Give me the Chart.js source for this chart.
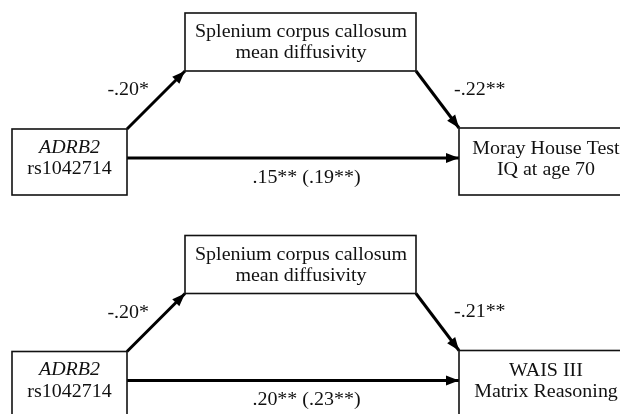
<!DOCTYPE html>
<html>
<head>
<meta charset="utf-8">
<script src="https://cdn.jsdelivr.net/npm/chart.js@4/dist/chart.umd.min.js"></script>
<style>
html,body{margin:0;padding:0;background:#fff;}
#c{display:block;}
</style>
</head>
<body>
<canvas id="c" width="620" height="414"></canvas>
<script>
// ---- Diagram content (data) ----
const predictorLabel = ['ADRB2', 'rs1042714'];
const mediatorLabel = ['Splenium corpus callosum', 'mean diffusivity'];
const outcomeLabels = [['Moray House Test', 'IQ at age 70'], ['WAIS III', 'Matrix Reasoning']];
const pathA = ['-.20*', '-.20*'];          // predictor -> mediator
const pathB = ['-.22**', '-.21**'];        // mediator -> outcome
const pathC = ['.15** (.19**)', '.20** (.23**)']; // direct (total) effect

// ---- Layout (diagram units on hidden linear scales) ----
const panelOffset = [0, 222.5];
const predBox = {x0: 12, x1: 127, y0: 129, y1: 195};
const medBox  = {x0: 185, x1: 416, y0: 13, y1: 71};
const outBox  = {x0: 459, x1: 640, y0: 128, y1: 195};
const directY = 158;

const FONT = '"Liberation Serif", "Times New Roman", serif';
const FS = 18, SX = 1.11, TDY = 1;

const datasets = [];
panelOffset.forEach((dy, p) => {
  datasets.push({label: 'a' + p, data: [{x: predBox.x1, y: predBox.y0 + dy}, {x: medBox.x0, y: medBox.y1 + dy}]});
  datasets.push({label: 'b' + p, data: [{x: medBox.x1, y: medBox.y1 + dy}, {x: outBox.x0, y: outBox.y0 + dy}]});
  datasets.push({label: 'c' + p, data: [{x: predBox.x1, y: directY + dy}, {x: outBox.x0, y: directY + dy}]});
});
datasets.forEach(d => Object.assign(d, {showLine: true, borderColor: '#000', borderWidth: 3, pointRadius: 0, pointHoverRadius: 0, tension: 0, borderCapStyle: 'butt'}));

function drawText(ctx, txt, x, y, align, italic) {
  ctx.save();
  ctx.translate(x, y + TDY);
  ctx.scale(SX, 1);
  ctx.font = (italic ? 'italic ' : '') + FS + 'px ' + FONT;
  ctx.fillStyle = '#111';
  ctx.textAlign = align;
  ctx.textBaseline = 'middle';
  ctx.fillText(txt, 0, 0);
  ctx.restore();
}

const diagramPlugin = {
  id: 'diagram',
  afterDatasetsDraw(chart) {
    const {ctx, scales: {x, y}} = chart;
    const px = v => x.getPixelForValue(v), py = v => y.getPixelForValue(v);
    ctx.save();
    // arrowheads
    chart.data.datasets.forEach(ds => {
      const a = ds.data[0], b = ds.data[1];
      const x1 = px(a.x), y1 = py(a.y), x2 = px(b.x), y2 = py(b.y);
      const ang = Math.atan2(y2 - y1, x2 - x1);
      const L = 13, W = 5;
      ctx.beginPath();
      ctx.moveTo(x2, y2);
      ctx.lineTo(x2 - L * Math.cos(ang) + W * Math.sin(ang), y2 - L * Math.sin(ang) - W * Math.cos(ang));
      ctx.lineTo(x2 - L * Math.cos(ang) - W * Math.sin(ang), y2 - L * Math.sin(ang) + W * Math.cos(ang));
      ctx.closePath();
      ctx.fillStyle = '#000';
      ctx.fill();
    });
    // boxes + text
    ctx.strokeStyle = '#111';
    ctx.lineWidth = 1.6;
    panelOffset.forEach((dy, p) => {
      [predBox, medBox, outBox].forEach(b => {
        ctx.strokeRect(px(b.x0), py(b.y0 + dy), px(b.x1) - px(b.x0), py(b.y1 + dy) - py(b.y0 + dy));
      });
      drawText(ctx, predictorLabel[0], px(69.5), py(147 + dy), 'center', true);
      drawText(ctx, predictorLabel[1], px(69.5), py(168.5 + dy), 'center', false);
      drawText(ctx, mediatorLabel[0], px(301), py(31.5 + dy), 'center', false);
      drawText(ctx, mediatorLabel[1], px(301), py(52.5 + dy), 'center', false);
      drawText(ctx, outcomeLabels[p][0], px(546), py(148 + dy), 'center', false);
      drawText(ctx, outcomeLabels[p][1], px(546), py(169 + dy), 'center', false);
      drawText(ctx, pathA[p], px(149), py(89.5 + dy), 'right', false);
      drawText(ctx, pathB[p], px(454), py(89 + dy), 'left', false);
      drawText(ctx, pathC[p], px(306.5), py(177 + dy), 'center', false);
    });
    ctx.restore();
  }
};

new Chart(document.getElementById('c'), {
  type: 'scatter',
  data: {datasets},
  options: {
    responsive: false,
    animation: false,
    devicePixelRatio: 1,
    layout: {padding: 0},
    plugins: {legend: {display: false}, tooltip: {enabled: false}},
    events: [],
    scales: {
      x: {type: 'linear', min: 0, max: 620, display: false},
      y: {type: 'linear', min: 0, max: 414, reverse: true, display: false}
    }
  },
  plugins: [diagramPlugin]
});
</script>
</body>
</html>
